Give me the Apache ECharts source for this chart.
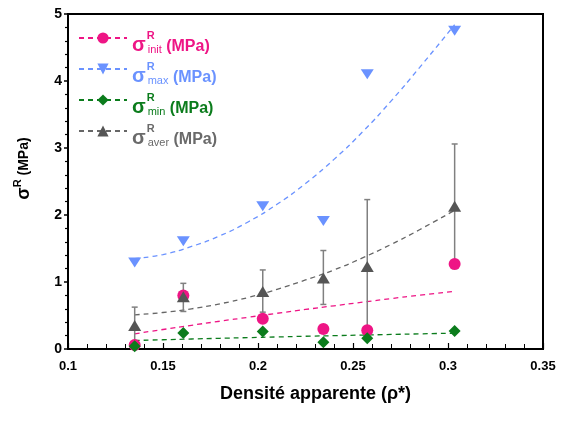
<!DOCTYPE html>
<html><head><meta charset="utf-8">
<script src="https://cdn.jsdelivr.net/npm/echarts@6/dist/echarts.min.js"></script>
<style>html,body{margin:0;padding:0;background:#fff}#c{width:581px;height:421px}</style>
</head><body><div id="c"></div>
<script>
// Measured points
const densite   = [0.1351, 0.1607, 0.2025, 0.2344, 0.2575, 0.3035];
const sigmaInit = [0.06, 0.80, 0.45, 0.30, 0.28, 1.27];
const sigmaMax  = [1.29, 1.61, 2.13, 1.91, 4.10, 4.75];
const sigmaMin  = [0.04, 0.24, 0.26, 0.10, 0.16, 0.27];
const sigmaAver = [0.35, 0.78, 0.86, 1.06, 1.23, 2.13];
const averLow   = [0.07, 0.56, 0.55, 0.665, 0.23, 1.20];
const averHigh  = [0.625, 0.98, 1.18, 1.47, 2.23, 3.06];

// Trend curves
const trendX    = [0.1351, 0.15, 0.165, 0.18, 0.195, 0.21, 0.225, 0.24, 0.255, 0.27, 0.285, 0.3035];
const trendInit = [0.227, 0.291, 0.354, 0.415, 0.474, 0.533, 0.590, 0.645, 0.699, 0.752, 0.803, 0.862];
const trendMax  = [1.35, 1.41, 1.53, 1.69, 1.90, 2.16, 2.47, 2.83, 3.24, 3.70, 4.20, 4.84];
const trendMin  = [0.127, 0.138, 0.149, 0.160, 0.170, 0.180, 0.190, 0.199, 0.208, 0.217, 0.226, 0.236];
const trendAver = [0.51, 0.545, 0.60, 0.675, 0.77, 0.89, 1.03, 1.18, 1.36, 1.56, 1.78, 2.07];

const legendNames = ['init', 'max', 'min', 'aver'];

const FONT = '"Liberation Sans", Arial, sans-serif';
const C = {init: '#EE1585', max: '#6A92FF', min: '#0B7C1C', aver: '#555555'};
const TXT = {init: '#EE1585', max: '#6A92FF', min: '#0B7C1C', aver: '#6A6A6A'};
const SYM = {
  init: {symbol: 'circle', size: 12, rot: 0},
  max:  {symbol: 'triangle', size: [13, 10], rot: 180},
  min:  {symbol: 'diamond', size: [12, 12], rot: 0},
  aver: {symbol: 'triangle', size: [13, 11], rot: 0}
};
const pts = {init: sigmaInit, max: sigmaMax, min: sigmaMin, aver: sigmaAver};
const trends = {init: trendInit, max: trendMax, min: trendMin, aver: trendAver};

const rich = {};
legendNames.forEach(k => {
  const c = TXT[k];
  rich['s_' + k] = {fontSize: 20, fontWeight: 'bold', color: c, fontFamily: FONT, lineHeight: 22, verticalAlign: 'bottom'};
  rich['r_' + k] = {fontSize: 11, fontWeight: 'bold', color: c, fontFamily: FONT, width: 0, lineHeight: 12, verticalAlign: 'top', padding: [9, 0, 0, 1]};
  rich['b_' + k] = {fontSize: 11, color: c, fontFamily: FONT, lineHeight: 12, verticalAlign: 'bottom', padding: [0, 0, 0, 1]};
  rich['u_' + k] = {fontSize: 16, fontWeight: 'bold', color: c, fontFamily: FONT, lineHeight: 22, verticalAlign: 'bottom'};
  rich['h_' + k] = {fontSize: 1, lineHeight: 34, width: 0, verticalAlign: 'middle'};
});

const series = [];
series.push({
  type: 'custom', name: 'errbar', z: 2,
  data: densite.map((x, i) => [x, averLow[i], averHigh[i]]),
  encode: {x: 0, y: [1, 2]},
  renderItem: (params, api) => {
    const x = api.value(0);
    const lo = api.coord([x, api.value(1)]);
    const hi = api.coord([x, api.value(2)]);
    const w = 3;
    const st = {stroke: '#808080', lineWidth: 1.5};
    return {type: 'group', children: [
      {type: 'line', shape: {x1: lo[0], y1: lo[1], x2: hi[0], y2: hi[1]}, style: st},
      {type: 'line', shape: {x1: hi[0] - w, y1: hi[1], x2: hi[0] + w, y2: hi[1]}, style: st},
      {type: 'line', shape: {x1: lo[0] - w, y1: lo[1], x2: lo[0] + w, y2: lo[1]}, style: st}
    ]};
  }
});
legendNames.forEach(k => {
  series.push({
    type: 'line', name: k, z: 1, smooth: true,
    symbol: SYM[k].symbol, symbolSize: SYM[k].size, symbolRotate: SYM[k].rot, showSymbol: false,
    itemStyle: {color: C[k]},
    lineStyle: {color: k === 'aver' ? '#666' : C[k], width: 1.3, type: [5, 4]},
    data: trendX.map((x, i) => [x, trends[k][i]]),
    silent: true
  });
});
['init', 'max', 'min', 'aver'].forEach(k => {
  series.push({
    type: 'scatter', name: k + '_pts', z: 3,
    symbol: SYM[k].symbol, symbolSize: SYM[k].size, symbolRotate: SYM[k].rot,
    itemStyle: {color: C[k], opacity: 1},
    data: densite.map((x, i) => [x, pts[k][i]])
  });
});

const chart = echarts.init(document.getElementById('c'), null, {renderer: 'canvas'});
chart.setOption({
  animation: false,
  backgroundColor: '#fff',
  grid: {left: 68, right: 38, top: 14, bottom: 72, show: true, borderColor: '#000', borderWidth: 2},
  legend: {
    data: legendNames,
    orient: 'vertical', left: 73, top: 16,
    itemWidth: 48, itemHeight: 14, itemGap: -3,
    selectedMode: false,
    formatter: name => `{h_${name}| }{s_${name}|σ}{r_${name}|R}{b_${name}|${name}}{u_${name}| (MPa)}`,
    textStyle: {rich: rich, fontFamily: FONT}
  },
  xAxis: {
    type: 'value', min: 0.1, max: 0.35, interval: 0.05,
    name: 'Densité apparente (ρ*)', nameLocation: 'middle', nameGap: 36,
    nameTextStyle: {fontFamily: FONT, fontSize: 18, fontWeight: 'bold', color: '#000', padding: [0, 0, 0, 20], verticalAlign: 'top'},
    axisLine: {lineStyle: {color: '#000', width: 2}},
    axisTick: {inside: true, length: 6, lineStyle: {color: '#000', width: 1.2}},
    minorTick: {show: true, splitNumber: 5, length: 5, lineStyle: {color: '#000', width: 1}},
    splitLine: {show: false},
    axisLabel: {fontFamily: FONT, fontSize: 13, fontWeight: 'bold', color: '#000', margin: 11,
      formatter: v => String(+v.toFixed(2))}
  },
  yAxis: {
    type: 'value', min: 0, max: 5, interval: 1,
    name: '{a|σ}{r|R}{c| (MPa)}', nameLocation: 'middle', nameGap: 32, nameRotate: 90,
    nameTextStyle: {padding: [0, 0, 0, 26], rich: {
      a: {fontFamily: FONT, fontSize: 18, fontWeight: 'bold', color: '#000', lineHeight: 24, verticalAlign: 'middle'},
      r: {fontFamily: FONT, fontSize: 11, fontWeight: 'bold', color: '#000', lineHeight: 12, verticalAlign: 'top'},
      c: {fontFamily: FONT, fontSize: 14, fontWeight: 'bold', color: '#000', lineHeight: 24, verticalAlign: 'middle'}
    }},
    axisLine: {lineStyle: {color: '#000', width: 2}},
    axisTick: {inside: false, length: 4, lineStyle: {color: '#000', width: 1.5}},
    minorTick: {show: true, splitNumber: 5, length: 3, lineStyle: {color: '#000', width: 1.2}},
    splitLine: {show: false},
    axisLabel: {fontFamily: FONT, fontSize: 14, fontWeight: 'bold', color: '#000', margin: 6}
  },
  series: series
});
</script></body></html>
